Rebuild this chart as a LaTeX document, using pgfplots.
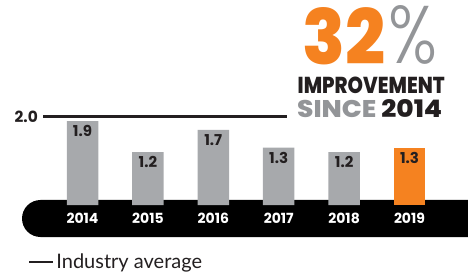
\documentclass[border=0pt]{standalone}
\usepackage{fontspec}
\setmainfont{Lato}
\usepackage{graphicx}
\usepackage{pgfplots}
\pgfplotsset{compat=1.18}
\definecolor{barg}{HTML}{A7A9AC}
\definecolor{org}{HTML}{F58220}
\definecolor{ink}{HTML}{231F20}
\definecolor{txtg}{HTML}{939598}
\IfFontExistsTF{Poppins ExtraBold}{\newfontfamily\heavy{Poppins ExtraBold}}{%
  \IfFontExistsTF{Poppins Bold}{\newfontfamily\heavy{Poppins Bold}}{\newfontfamily\heavy{DejaVu Sans Bold}}}
\IfFontExistsTF{Poppins Bold}{\newfontfamily\lab{Poppins Bold}}{\newfontfamily\lab{DejaVu Sans Bold}}
\IfFontExistsTF{Poppins Light}{\newfontfamily\light{Poppins Light}}{\newfontfamily\light{Poppins}}
\begin{document}
\begin{tikzpicture}
\useasboundingbox (0,0) rectangle (468pt,273pt);
\fill[black, rounded corners=18.5pt] (22pt,36pt) rectangle (520pt,73pt);
\begin{axis}[
  at={(0,0)}, anchor=south west,
  scale only axis, width=468pt, height=273pt,
  xmin=-1.2615, xmax=5.8945, ymin=-1.5305, ymax=4.632,
  axis x line*=bottom, hide y axis, x axis line style={draw=none}, clip=false,
  xtick=data, xticklabels={2014,2015,2016,2017,2018,2019},
  major tick length=0pt, xtick style={draw=none},
  xticklabel style={anchor=center, yshift=54.5pt, text=white, font=\lab\fontsize{14}{14}\selectfont},
  /pgf/number format/assume math mode=true,
  nodes near coords={\pgfmathprintnumber[fixed,precision=1,fixed zerofill]{\pgfplotspointmeta}},
  every node near coord/.append style={anchor=north, yshift=-4pt, inner sep=0pt, text=ink, font=\lab\fontsize{15}{15}\selectfont},
  legend style={at={(axis description cs:0.0598,0.0403)}, anchor=west, draw=none, fill=none, inner sep=0pt,
    font=\fontsize{20}{20}\selectfont, text=ink,
    /tikz/every even column/.append style={column sep=5pt}},
  legend image code/.code={\draw[line width=2.2pt, ink] (0pt,0pt) -- (24pt,0pt);},
]
\addplot[ybar, bar width=31.5pt, bar shift=0pt, fill=barg, draw=none, forget plot]
  coordinates {(0,1.9) (1,1.2) (2,1.7) (3,1.3) (4,1.2)};
\addplot[ybar, bar width=31.5pt, bar shift=0pt, fill=org, draw=none, forget plot]
  coordinates {(5,1.3)};
\addplot[line width=3pt, ink, sharp plot, nodes near coords={}, no markers]
  coordinates {(-0.604,2) (3.127,2)};
\addlegendentry{Industry average}
\node[anchor=east, inner sep=0pt, xshift=-5pt, text=ink, font=\lab\fontsize{15.4}{15.4}\selectfont] at (axis cs:-0.604,2) {2.0};
\end{axis}
\node[anchor=south west, inner sep=0pt] at (302pt,208pt) {\resizebox{83pt}{57pt}{\heavy\color{org}32}};
\node[anchor=south west, inner sep=0pt] at (388pt,208pt) {\resizebox{49pt}{58pt}{\light\color{txtg}\%}};
\node[anchor=south west, inner sep=0pt] at (297.5pt,179pt) {\resizebox{147pt}{16.5pt}{\heavy\color{ink}IMPROVEMENT}};
\node[anchor=south west, inner sep=0pt] at (297pt,155pt) {\resizebox{145pt}{18pt}{\heavy{\color{txtg}SINCE} \color{ink}2014}};
\end{tikzpicture}
\end{document}
